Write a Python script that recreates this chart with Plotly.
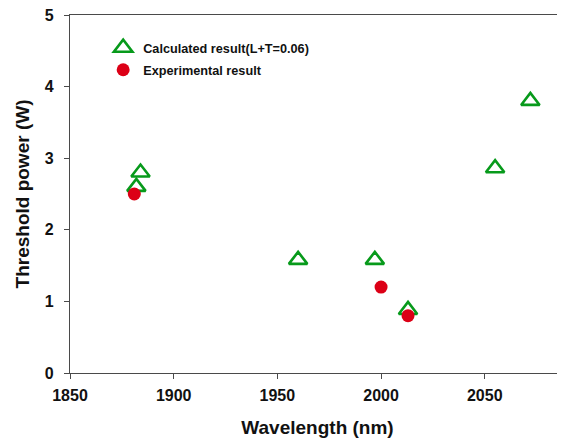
import plotly.graph_objects as go

calc_wavelength = [1882, 1884, 1960, 1997, 2013, 2055, 2072]
calc_power = [2.6, 2.8, 1.58, 1.58, 0.88, 2.86, 3.8]
exp_wavelength = [1881, 2000, 2013]
exp_power = [2.5, 1.2, 0.8]

x_ticks = [1850, 1900, 1950, 2000, 2050]
y_ticks = [0, 1, 2, 3, 4, 5]

FONT = "Arial, 'Liberation Sans', sans-serif"
GREEN = "#079a1b"
RED = "#dc0016"
AXIS_COLOR = "#4a4a4a"
LEG_FONT = dict(family=FONT, size=12.7, color="#111111", weight="bold")

fig = go.Figure()
fig.add_trace(go.Scatter(
    x=calc_wavelength, y=calc_power, mode="markers",
    name="Calculated result(L+T=0.06)", legend="legend",
    marker=dict(symbol="triangle-up-open", size=16, color=GREEN,
                line=dict(width=2.6, color=GREEN)),
))
fig.add_trace(go.Scatter(
    x=exp_wavelength, y=exp_power, mode="markers",
    name="Experimental result", legend="legend2",
    marker=dict(symbol="circle", size=13, color=RED, line=dict(width=0)),
))

axis_common = dict(
    showgrid=False, zeroline=False, showline=True, linecolor=AXIS_COLOR,
    linewidth=1.4, ticks="outside", ticklen=5, tickwidth=1.3, tickcolor=AXIS_COLOR,
    automargin=False, ticklabeloverflow="allow",
    tickfont=dict(family=FONT, size=16, color="#111111", weight="bold"),
)

leg_common = dict(xanchor="left", yanchor="middle", bgcolor="rgba(0,0,0,0)",
                  borderwidth=0, font=LEG_FONT, itemsizing="trace")

# page body has an 8px margin; figure is sized to fit the 565x445 window
fig.update_layout(
    width=557, height=437,
    margin=dict(l=62, r=0, t=7, b=72, autoexpand=False),
    paper_bgcolor="white", plot_bgcolor="white",
    font=dict(family=FONT, color="#111111"),
    showlegend=True,
    legend=dict(x=0.067, y=(373 - 48) / 358, **leg_common),
    legend2=dict(x=0.067, y=(373 - 70) / 358, **leg_common),
    xaxis=dict(range=[1850, 2088.7], tickvals=x_ticks, ticklabelstandoff=3,
               mirror=True,
               title=dict(text="Wavelength (nm)", standoff=17,
                          font=dict(family=FONT, size=19, color="#111111", weight="bold")),
               **axis_common),
    yaxis=dict(range=[0, 5], tickvals=y_ticks, ticklabelstandoff=7,
               title=dict(text="Threshold power (W)", standoff=10,
                          font=dict(family=FONT, size=19, color="#111111", weight="bold")),
               **axis_common),
)

fig.write_html("out.html")
